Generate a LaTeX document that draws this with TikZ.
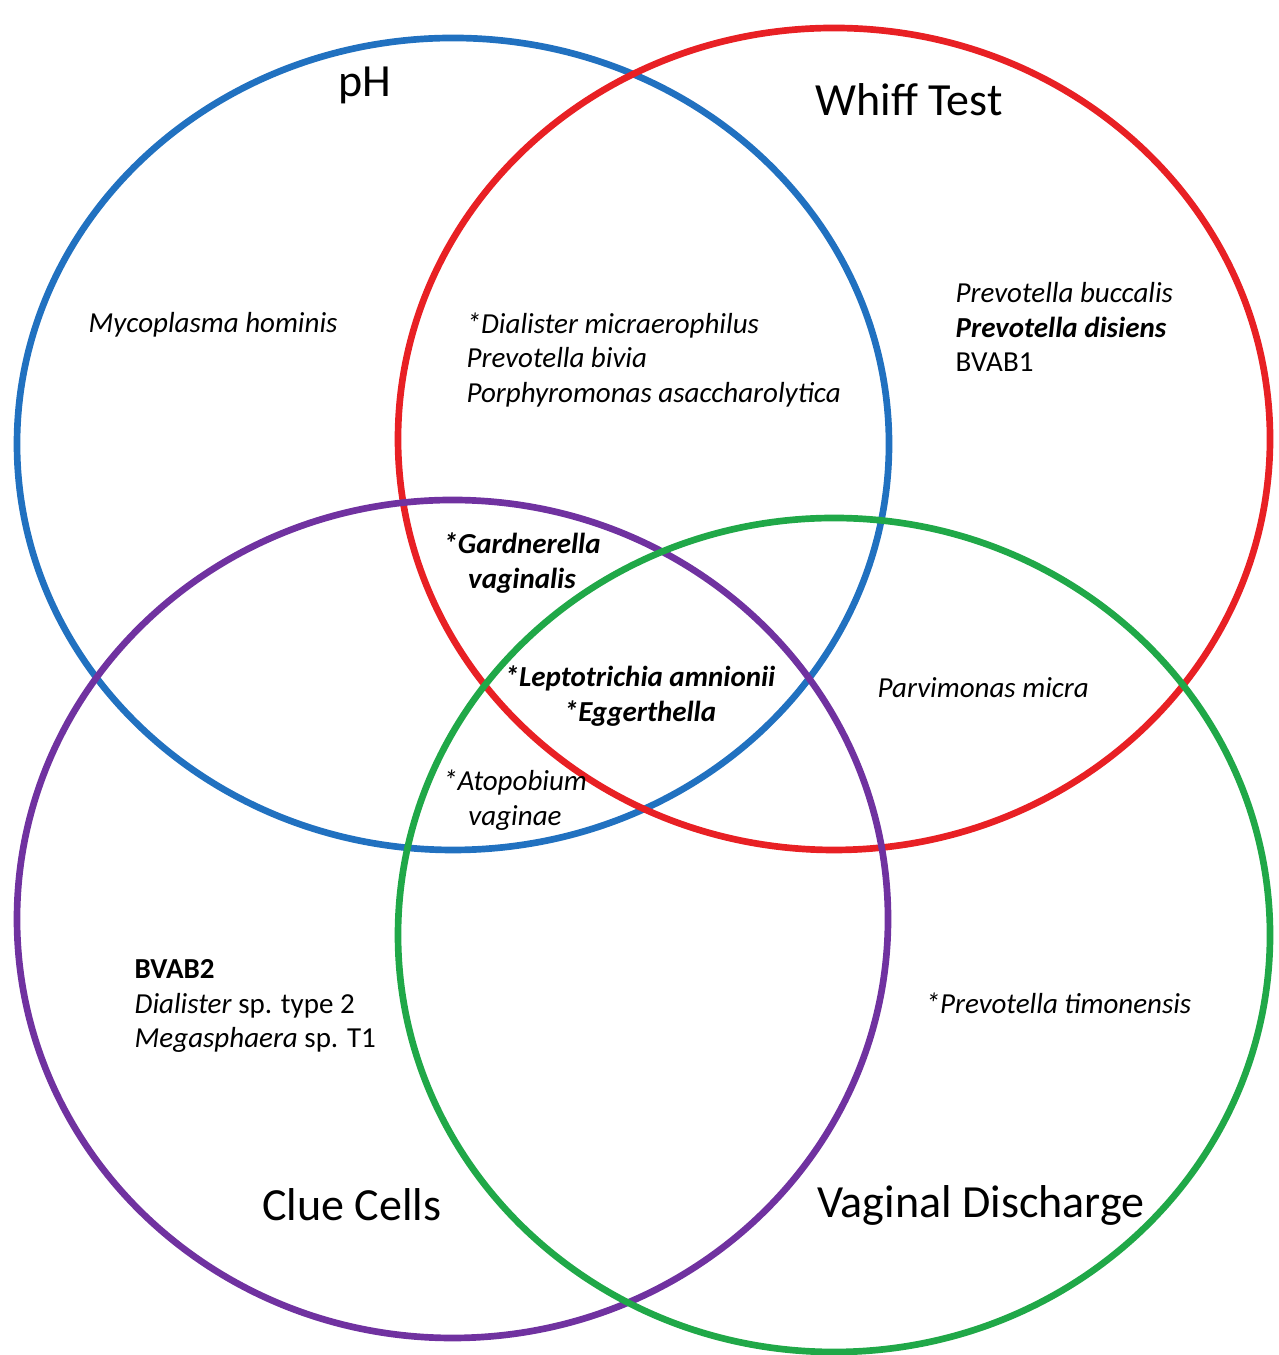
\documentclass[tikz,border=0pt]{standalone}
\usepackage{fontspec}
\setmainfont{Carlito}
\usetikzlibrary{positioning}
\definecolor{phblue}{RGB}{33,113,192}
\definecolor{whiffred}{RGB}{232,32,36}
\definecolor{cluepurple}{RGB}{112,50,160}
\definecolor{dischgreen}{RGB}{32,168,72}
\newcommand{\spec}[1]{\textit{#1}}
\newcommand{\keyspec}[1]{\textbf{\textit{#1}}}

\begin{document}
\begin{tikzpicture}[
    ring/.style={line width=1.9pt},
    title/.style={font=\fontsize{13.1}{15}\selectfont,inner sep=0pt},
    taxa/.style={font=\fontsize{8.25}{9.85}\selectfont,align=left,anchor=west,inner sep=0pt},
    midtaxa/.style={font=\fontsize{8.25}{9.85}\selectfont,align=center,inner sep=0pt}
  ]
    \useasboundingbox (0,0) rectangle (12.78,13.55);

    % the four sets
    \draw[ring,draw=phblue] (4.53,9.11) ellipse [x radius=4.36, y radius=4.06];
    \draw[ring,draw=whiffred] (8.34,9.16) ellipse [x radius=4.36, y radius=4.11];
    \draw[ring,draw=cluepurple] (4.525,4.36) ellipse [x radius=4.355, y radius=4.19];
    \draw[ring,draw=dischgreen] (8.34,4.20) ellipse [x radius=4.36, y radius=4.17];

    % set titles
    \node[title] (ph) at (3.65,12.70) {pH};
    \node[title] (whiff) at (9.09,12.55) {Whiff Test};
    \node[title] (clue) at (3.52,1.50) {Clue Cells};
    \node[title] (discharge) at (9.81,1.50) {Vaginal Discharge};

    % regions
    \node[taxa] (phonly) at (0.88,10.30) {\spec{Mycoplasma hominis}};
    \node[taxa] (phwhiff) at (4.66,9.95) {\spec{*Dialister micraerophilus}\\\spec{Prevotella bivia}\\\spec{Porphyromonas asaccharolytica}};
    \node[taxa] (whiffonly) at (9.55,10.28) {\spec{Prevotella buccalis}\\\keyspec{Prevotella disiens}\\BVAB1};
    \node[midtaxa] (gardner) at (5.22,7.92) {\keyspec{*Gardnerella}\\\keyspec{vaginalis}};
    \node[midtaxa] (allfour) at (6.40,6.59) {\keyspec{*Leptotrichia amnionii}\\\keyspec{*Eggerthella}};
    \node[taxa] (whiffdisch) at (8.77,6.67) {\spec{Parvimonas micra}};
    \node[midtaxa] (atopo) at (5.15,5.55) {\spec{*Atopobium}\\\spec{vaginae}};
    \node[taxa] (clueonly) at (1.34,3.49) {\textbf{BVAB2}\\\spec{Dialister} sp. type 2\\\spec{Megasphaera} sp. T1};
    \node[taxa] (dischonly) at (9.25,3.52) {\spec{*Prevotella timonensis}};
  \end{tikzpicture}
\end{document}
